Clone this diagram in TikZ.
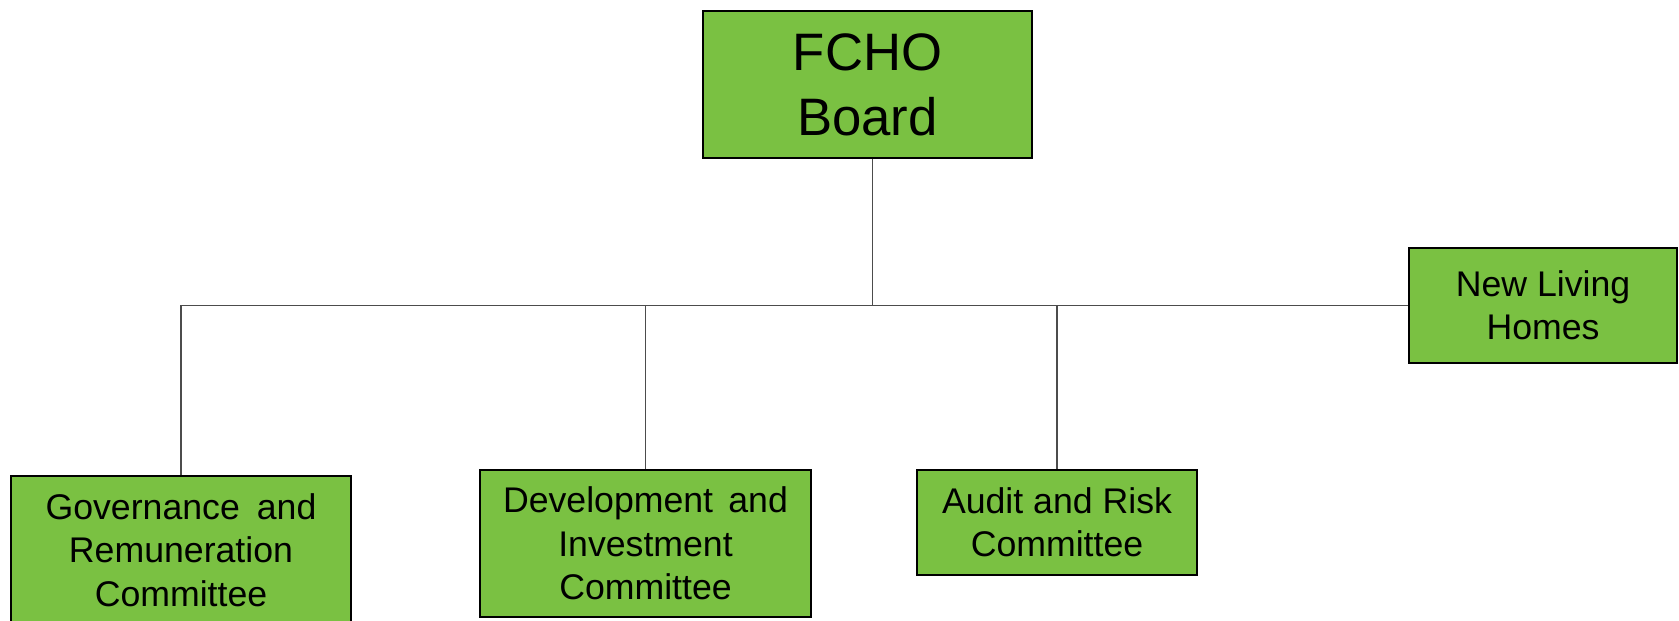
\documentclass[tikz,border=0pt]{standalone}
\usepackage{fontspec}
\setmainfont{Liberation Sans}
\definecolor{boxgreen}{RGB}{122,193,66}

\begin{document}
\begin{tikzpicture}[x=0.02cm,y=-0.02cm,
    orgbox/.style={draw=black,line width=1.1pt,fill=boxgreen,
      align=center,inner sep=0pt,font=\fontsize{20.3}{24.7}\selectfont},
    link/.style={draw=black!70,line width=0.6pt}]

      % page frame
      \useasboundingbox (0,0) rectangle (1679,620);

      % boxes
      \node[orgbox,minimum width=6.58cm,minimum height=2.94cm,%
        font=\fontsize{30}{37}\selectfont] (board) at (867.5,84.5){%
        FCHO\\Board};
      \node[orgbox,minimum width=5.36cm,minimum height=2.3cm] (nlh) at (1543,305.5){%
        New Living\\Homes};
      \node[orgbox,minimum width=6.8cm,minimum height=2.96cm] (gov) at (181,550){%
        Governance\hspace{0.2em} and\\Remuneration\\Committee};
      \node[orgbox,minimum width=6.62cm,minimum height=2.94cm] (dev) at (645.5,543.5){%
        Development\hspace{0.15em} and\\Investment\\Committee};
      \node[orgbox,minimum width=5.6cm,minimum height=2.1cm] (audit) at (1057,522.5){%
        Audit and Risk\\Committee};

      % connectors
      \coordinate (drop) at ([xshift=0.1cm]board.south);
      \draw[link] (drop) -- (drop |- nlh.west);
      \draw[link] (gov.north) |- (nlh.west);
      \draw[link] (dev.north) -- (dev.north |- nlh.west);
      \draw[link] (audit.north) -- (audit.north |- nlh.west);
    \end{tikzpicture}
\end{document}
